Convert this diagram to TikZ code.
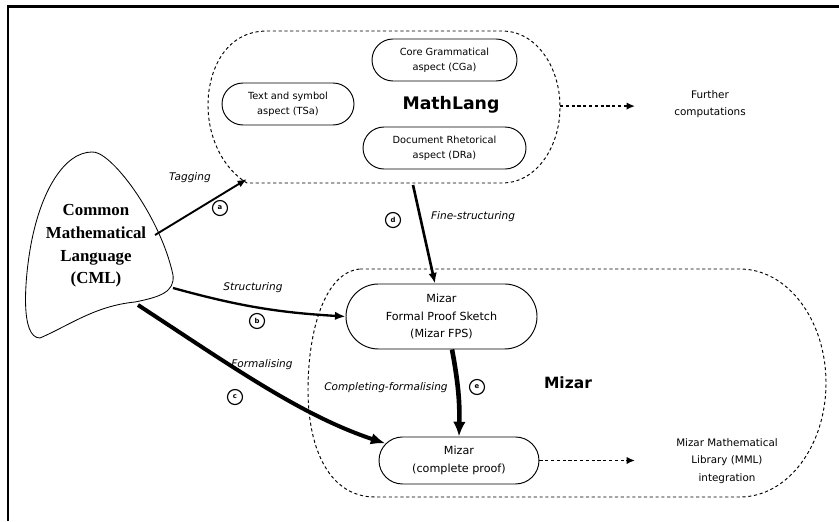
\documentclass[tikz,border=0pt]{standalone}
\usepackage{fontspec}
\setmainfont{DejaVu Sans}
\newfontfamily\cmlfont{Liberation Serif}
\usetikzlibrary{arrows.meta,shapes.misc}

\begin{document}
\begin{tikzpicture}[>=latex,
	aspect/.style={draw,rounded rectangle,line width=0.9pt,inner sep=0pt,
		align=center,minimum height=1.4cm,font=\fontsize{9.3}{14.2}\selectfont},
	mizarbox/.style={aspect,minimum height=2.167cm,font=\fontsize{10.6}{16.6}\selectfont},
	area/.style={line width=0.9pt,dash pattern=on 3pt off 2.5pt},
	flowlabel/.style={font=\itshape\fontsize{10}{12}\selectfont},
	circlabel/.style={draw,circle,line width=1.1pt,minimum size=0.5cm,inner sep=0pt,
		font=\bfseries\fontsize{6.5}{7}\selectfont},
	plain/.style={align=center,font=\fontsize{9.8}{16.6}\selectfont}]
\useasboundingbox (0,0) rectangle (27.967,17.367);

% frame
\draw[line width=2.8pt] (0.267,0) -- (0.267,17.15) -- (27.967,17.15);

% common mathematical language
\draw[line width=0.8pt]
	(3.067,12.3) .. controls (3.667,12.367) and (5.333,10.2) .. (5.767,8.2)
	.. controls (5.833,7.633) and (5.333,7.467) .. (4.5,7.3)
	.. controls (3.167,7.167) and (2.333,6.533) .. (1.333,6.1)
	.. controls (0.667,6.1) and (0.833,8.033) .. (1.0,9.033)
	.. controls (1.333,11.033) and (2.167,12.3) .. cycle;
\node (cml) at (3.2,9.167) [align=center,font=\cmlfont\bfseries\fontsize{16}{21.5}\selectfont]
	{Common\\Mathematical\\Language\\(CML)};
\coordinate (cmlT) at (5.167,9.533);
\coordinate (cmlS) at (5.767,7.767);
\coordinate (cmlF) at (4.6,7.2);

% mathlang
\draw[area] (8.9,16.333) -- (16.767,16.333)
	arc[start angle=90,end angle=-90,x radius=1.9,y radius=2.533]
	-- (8.233,11.267) .. controls (7.5,11.7) and (6.933,12.7) .. (6.933,13.867)
	.. controls (6.933,15.0) and (7.5,16.333) .. cycle;
\node (tsa) at (9.6,13.9) [aspect,minimum width=4.4cm] {Text and symbol\\aspect (TSa)};
\node (cga) at (14.817,15.367) [aspect,minimum width=4.833cm] {Core Grammatical\\aspect (CGa)};
\node (dra) at (14.817,12.433) [aspect,minimum width=5.433cm] {Document Rhetorical\\aspect (DRa)};
\node (mathlang) at (15.033,13.867) [font=\bfseries\fontsize{16.4}{18}\selectfont] {MathLang};
\coordinate (mlTip) at (8.233,11.4);
\coordinate (mlB) at (13.767,11.2);
\coordinate (mlR) at (18.667,13.83);
\node (further) at (23.667,13.9) [plain,font=\fontsize{9.9}{16.1}\selectfont] {Further\\computations};
\coordinate (furtherArr) at (21.167,13.83);

% mizar
\draw[area] (12.0,8.4) -- (24.667,8.4)
	arc[start angle=90,end angle=-90,x radius=2.867,y radius=3.8]
	-- (12.5,0.8) .. controls (11.0,0.8) and (10.267,2.367) .. (10.267,4.367)
	.. controls (10.267,6.367) and (10.833,8.3) .. cycle;
\node (fps) at (14.717,6.817) [mizarbox,minimum width=6.367cm]
	{Mizar\\Formal Proof Sketch\\(Mizar FPS)};
\node (complete) at (15.3,2.017) [mizarbox,minimum width=5.333cm,minimum height=1.567cm]
	{Mizar\\(complete proof)};
\node (mizar) at (18.933,4.6) [font=\bfseries\fontsize{14.7}{16}\selectfont] {Mizar};
\node (mml) at (24.233,2.0) [plain] {Mizar Mathematical\\Library (MML)\\integration};
\coordinate (mmlArr) at (21.167,2.017);

% connectors
\draw[line width=1.8pt,-{Latex[length=9pt,width=7pt]}] (cmlT) -- (mlTip);
\draw[line width=2.2pt,-{Latex[length=10pt,width=8pt]}] (cmlS) to[bend right=6] (fps.west);
\draw[line width=3.8pt,-{Latex[length=14pt,width=11pt]}]
	(cmlF) .. controls (7.667,5.2) and (10.0,3.533) .. (complete.167);
\draw[line width=2.5pt,-{Latex[length=10pt,width=8pt]}] (mlB) -- ([xshift=-0.217cm]fps.north);
\draw[line width=4.4pt,-{Latex[length=14pt,width=12pt]}]
	([xshift=0.35cm]fps.south) to[bend left=6] (complete.north);
\draw[line width=1.5pt,dash pattern=on 3pt off 2.5pt,-{Latex[length=8pt,width=7pt]}]
	(mlR) -- (furtherArr);
\draw[line width=1.5pt,dash pattern=on 3pt off 2.5pt,-{Latex[length=8pt,width=7pt]}]
	(complete.east) -- (mmlArr);

% labels
\node (ltag) at (6.333,11.433) [flowlabel] {Tagging};
\node (lfine) at (15.767,10.133) [flowlabel] {Fine-structuring};
\node (lstruct) at (8.433,7.767) [flowlabel] {Structuring};
\node (lform) at (8.733,5.2) [flowlabel] {Formalising};
\node (lcompl) at (12.867,4.433) [flowlabel] {Completing-formalising};
\node (ca) at (7.333,10.433) [circlabel] {a};
\node (cb) at (8.567,6.667) [circlabel] {b};
\node (cc) at (7.833,4.133) [circlabel] {c};
\node (cd) at (13.1,10.033) [circlabel] {d};
\node (ce) at (15.9,4.467) [circlabel] {e};

\end{tikzpicture}
\end{document}
